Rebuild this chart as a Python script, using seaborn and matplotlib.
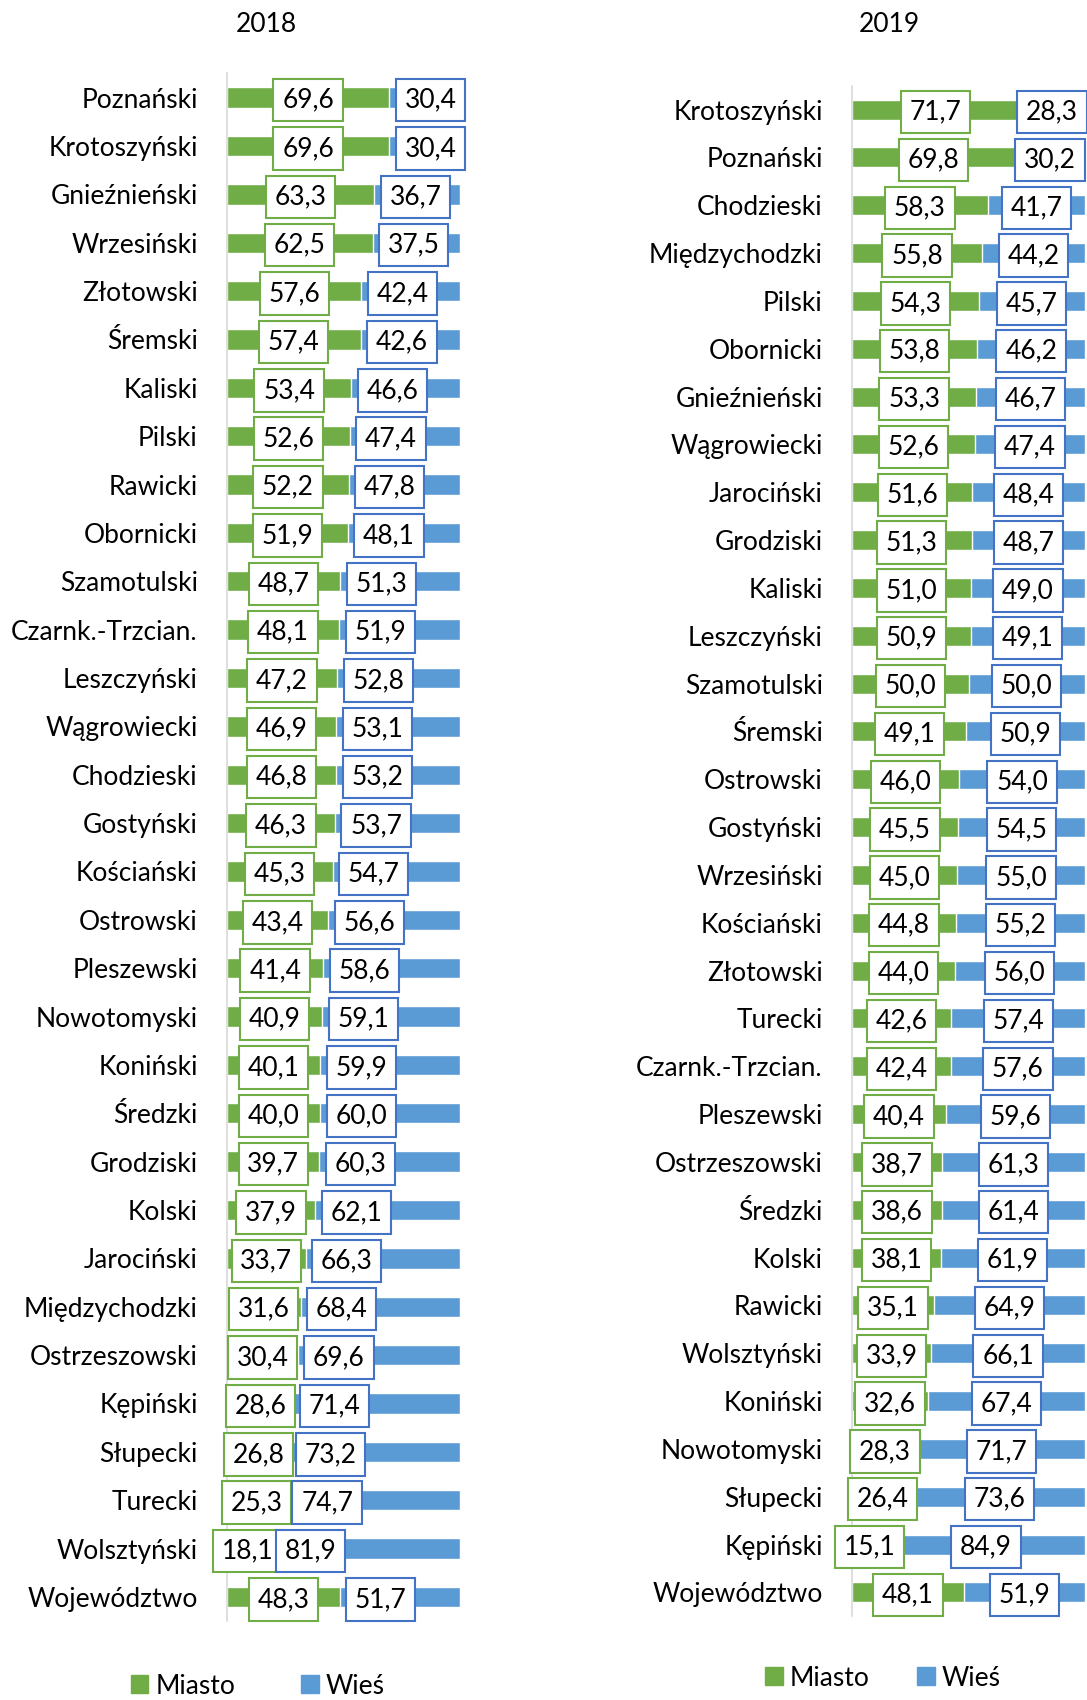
import matplotlib

matplotlib.use("Agg")

import matplotlib.pyplot as plt
import pandas as pd
import seaborn as sns
from matplotlib.patches import Patch

GREEN = "#70AD47"
BLUE = "#5B9BD5"
BLUE_EDGE = "#4472C4"
FONT = "Lato"
FS = 19

names_2018 = [
    "Poznański", "Krotoszyński", "Gnieźnieński", "Wrzesiński", "Złotowski",
    "Śremski", "Kaliski", "Pilski", "Rawicki", "Obornicki", "Szamotulski",
    "Czarnk.-Trzcian.", "Leszczyński", "Wągrowiecki", "Chodzieski",
    "Gostyński", "Kościański", "Ostrowski", "Pleszewski", "Nowotomyski",
    "Koniński", "Średzki", "Grodziski", "Kolski", "Jarociński",
    "Międzychodzki", "Ostrzeszowski", "Kępiński", "Słupecki", "Turecki",
    "Wolsztyński", "Województwo",
]
miasto_2018 = [
    69.6, 69.6, 63.3, 62.5, 57.6, 57.4, 53.4, 52.6, 52.2, 51.9, 48.7,
    48.1, 47.2, 46.9, 46.8, 46.3, 45.3, 43.4, 41.4, 40.9, 40.1, 40.0,
    39.7, 37.9, 33.7, 31.6, 30.4, 28.6, 26.8, 25.3, 18.1, 48.3,
]
wies_2018 = [
    30.4, 30.4, 36.7, 37.5, 42.4, 42.6, 46.6, 47.4, 47.8, 48.1, 51.3,
    51.9, 52.8, 53.1, 53.2, 53.7, 54.7, 56.6, 58.6, 59.1, 59.9, 60.0,
    60.3, 62.1, 66.3, 68.4, 69.6, 71.4, 73.2, 74.7, 81.9, 51.7,
]

names_2019 = [
    "Krotoszyński", "Poznański", "Chodzieski", "Międzychodzki", "Pilski",
    "Obornicki", "Gnieźnieński", "Wągrowiecki", "Jarociński", "Grodziski",
    "Kaliski", "Leszczyński", "Szamotulski", "Śremski", "Ostrowski",
    "Gostyński", "Wrzesiński", "Kościański", "Złotowski", "Turecki",
    "Czarnk.-Trzcian.", "Pleszewski", "Ostrzeszowski", "Średzki", "Kolski",
    "Rawicki", "Wolsztyński", "Koniński", "Nowotomyski", "Słupecki",
    "Kępiński", "Województwo",
]
miasto_2019 = [
    71.7, 69.8, 58.3, 55.8, 54.3, 53.8, 53.3, 52.6, 51.6, 51.3, 51.0,
    50.9, 50.0, 49.1, 46.0, 45.5, 45.0, 44.8, 44.0, 42.6, 42.4, 40.4,
    38.7, 38.6, 38.1, 35.1, 33.9, 32.6, 28.3, 26.4, 15.1, 48.1,
]
wies_2019 = [
    28.3, 30.2, 41.7, 44.2, 45.7, 46.2, 46.7, 47.4, 48.4, 48.7, 49.0,
    49.1, 50.0, 50.9, 54.0, 54.5, 55.0, 55.2, 56.0, 57.4, 57.6, 59.6,
    61.3, 61.4, 61.9, 64.9, 66.1, 67.4, 71.7, 73.6, 84.9, 51.9,
]


def fmt(v: float) -> str:
    return f"{v:.1f}".replace(".", ",")


def box(color: str) -> dict:
    return dict(boxstyle="square,pad=0.33", fc="white", ec=color, lw=1.5)


def draw_panel(ax, names, miasto, wies, blue_at_base):
    df = pd.DataFrame({"powiat": names, "miasto": miasto, "wies": wies})
    df["razem"] = df["miasto"] + df["wies"]

    # stacked bars: full length in blue, city share drawn over it in green
    sns.barplot(data=df, x="razem", y="powiat", orient="h", color=BLUE,
                saturation=1, width=0.42, errorbar=None, ax=ax)
    sns.barplot(data=df, x="miasto", y="powiat", orient="h", color=GREEN,
                saturation=1, width=0.42, errorbar=None, ax=ax)

    for i, (m, w) in enumerate(zip(df["miasto"], df["wies"])):
        ax.text(m / 2, i, fmt(m), ha="center", va="center_baseline",
                fontsize=FS, bbox=box(GREEN), clip_on=False, zorder=5)
        if blue_at_base:
            ax.annotate(fmt(w), xy=(m, i), xytext=(11, 0),
                        textcoords="offset points", ha="left",
                        va="center_baseline", fontsize=FS,
                        bbox=box(BLUE_EDGE), annotation_clip=False, zorder=6)
        else:
            ax.text(m + w / 2, i, fmt(w), ha="center", va="center_baseline",
                    fontsize=FS, bbox=box(BLUE_EDGE), clip_on=False, zorder=6)

    ax.set_xlim(0, 100)
    ax.set_ylim(len(names) - 0.5, -0.5)
    ax.set_xlabel("")
    ax.set_ylabel("")
    ax.set_xticks([])
    ax.tick_params(axis="y", length=0, pad=21, labelsize=FS, labelcolor="black")
    for side in ["top", "right", "bottom"]:
        ax.spines[side].set_visible(False)
    ax.spines["left"].set_color("#D9D9D9")
    ax.spines["left"].set_linewidth(1.2)
    ax.set_facecolor("white")


def main() -> None:
    sns.set_theme(style="white")
    plt.rcParams["font.family"] = [FONT, "DejaVu Sans"]
    plt.rcParams["text.color"] = "black"

    fig = plt.figure(figsize=(10.87, 17.0), dpi=100)
    ax1 = fig.add_axes([0.2088, 0.0464, 0.2144, 0.9104])
    ax2 = fig.add_axes([0.7838, 0.0492, 0.2144, 0.9004])

    draw_panel(ax1, names_2018, miasto_2018, wies_2018, blue_at_base=True)
    draw_panel(ax2, names_2019, miasto_2019, wies_2019, blue_at_base=False)

    fig.text(266 / 1087, 1 - 24 / 1700, "2018", ha="center", va="center",
             fontsize=FS)
    fig.text(889 / 1087, 1 - 24 / 1700, "2019", ha="center", va="center",
             fontsize=FS)

    handles = [Patch(color=GREEN, label="Miasto"), Patch(color=BLUE, label="Wieś")]
    fig.legend(handles=handles, loc="center", ncol=2, frameon=False,
               bbox_to_anchor=(258 / 1087, 1 - 1686 / 1700), fontsize=FS,
               handlelength=0.66, handleheight=0.66, handletextpad=0.27,
               columnspacing=2.5, borderpad=0)
    fig.legend(handles=handles, loc="center", ncol=2, frameon=False,
               bbox_to_anchor=(883 / 1087, 1 - 1678 / 1700), fontsize=FS,
               handlelength=0.66, handleheight=0.66, handletextpad=0.27,
               columnspacing=1.8, borderpad=0)

    fig.savefig("out.png", dpi=100, facecolor="white")
    plt.close(fig)


if __name__ == "__main__":
    main()
